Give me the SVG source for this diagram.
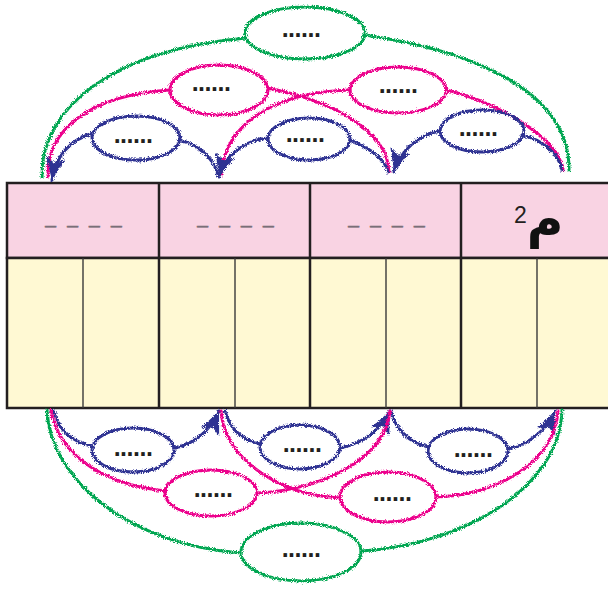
<svg xmlns="http://www.w3.org/2000/svg" width="608" height="589" viewBox="0 0 608 589">
<style>
.hdr{fill:#f9d3e3;stroke:#231f20;stroke-width:2.5}
.body{fill:#fff9d3;stroke:#231f20;stroke-width:2.5}
.major{stroke:#231f20;stroke-width:2.5;fill:none}
.minor{stroke:#3a3a3a;stroke-width:1.4;fill:none}
.dash{font-family:"Liberation Sans",Arial,sans-serif;font-size:20px;fill:#7a6f78;stroke:#7a6f78;stroke-width:0.5;letter-spacing:2.6px}
.dots{font-family:"Liberation Sans",Arial,sans-serif;font-size:25px;font-weight:bold;fill:#231f20;letter-spacing:-0.5px;text-anchor:middle}
.g{stroke:#00a651}
.p{stroke:#ec008c}
.b{stroke:#2e3192}
ellipse.n{fill:none;stroke-width:3;filter:url(#rough)}
#connectors path{fill:none;stroke-width:3;stroke-linecap:round}
</style>
<defs>
<filter id="rough" filterUnits="userSpaceOnUse" x="0" y="0" width="608" height="589">
<feTurbulence type="fractalNoise" baseFrequency="1.1" numOctaves="2" seed="4" result="n"/>
<feDisplacementMap in="SourceGraphic" in2="n" scale="5" xChannelSelector="R" yChannelSelector="G"/>
</filter>
<marker id="arr" markerUnits="userSpaceOnUse" markerWidth="26" markerHeight="22" refX="23" refY="11" orient="auto" viewBox="0 0 26 22">
<path d="M0,1 L23,11 L0,21 L6,11 Z" fill="#2e3192" stroke="none"/>
</marker>
</defs>

<g id="table">
<rect class="hdr" x="7" y="183" width="620" height="75"/>
<rect class="body" x="7" y="258" width="620" height="150"/>
<line class="major" x1="159" y1="183" x2="159" y2="408"/>
<line class="major" x1="310" y1="183" x2="310" y2="408"/>
<line class="major" x1="461" y1="183" x2="461" y2="408"/>
<line class="minor" x1="83" y1="258" x2="83" y2="408"/>
<line class="minor" x1="235" y1="258" x2="235" y2="408"/>
<line class="minor" x1="386" y1="258" x2="386" y2="408"/>
<line class="minor" x1="537" y1="258" x2="537" y2="408"/>
<text class="dash" x="45" y="232">– – – –</text>
<text class="dash" x="197" y="232">– – – –</text>
<text class="dash" x="348" y="232">– – – –</text>
<text x="514" y="223" font-family="Liberation Sans,Arial,sans-serif" font-size="23" fill="#231f20">2</text>
<text x="545" y="237" font-family="DejaVu Sans,sans-serif" font-size="50" font-weight="bold" fill="#111" text-anchor="middle">م</text>
</g>

<g id="connectors" filter="url(#rough)">
<path class="g" d="M42,177 C40,110 110,50 246,38"/>
<path class="g" d="M364,35 C470,50 570,90 569,170"/>
<path class="p" d="M48,177 C46,130 90,95 170,90"/>
<path class="p" d="M267,88 C330,100 388,130 389,172"/>
<path class="p" d="M221,175 C225,120 280,92 350,90"/>
<path class="p" d="M446,90 C490,100 558,135 563,170"/>
<path class="b" d="M93,133 C70,140 56,155 52,180" marker-end="url(#arr)"/>
<path class="b" d="M179,140 C200,145 215,160 218,176"/>
<path class="b" d="M268,138 C245,140 225,155 219,177" marker-end="url(#arr)"/>
<path class="b" d="M350,140 C370,148 386,160 388,172"/>
<path class="b" d="M440,131 C420,134 400,150 394,172" marker-end="url(#arr)"/>
<path class="b" d="M522,135 C542,140 558,152 562,170"/>
<path class="b" d="M54,411 C58,430 72,442 92,446"/>
<path class="b" d="M174,448 C192,445 210,432 219,411" marker-end="url(#arr)"/>
<path class="b" d="M225,411 C230,430 243,440 260,444"/>
<path class="b" d="M340,448 C362,444 381,430 390,411" marker-end="url(#arr)"/>
<path class="b" d="M391,411 C396,430 409,442 428,447"/>
<path class="b" d="M508,449 C528,445 547,430 555,411" marker-end="url(#arr)"/>
<path class="p" d="M51,410 C60,460 110,485 165,491"/>
<path class="p" d="M257,493 C320,490 385,460 390,411"/>
<path class="p" d="M221,411 C225,460 280,495 340,498"/>
<path class="p" d="M436,497 C500,495 555,460 558,411"/>
<path class="g" d="M47,410 C50,480 130,545 241,553"/>
<path class="g" d="M362,551 C460,545 560,490 562,410"/>
</g>

<g id="n-top-green"><ellipse class="n g" cx="305" cy="33" rx="60" ry="26"/><text class="dots" x="301" y="37">......</text></g>
<g id="n-top-pink-1"><ellipse class="n p" cx="219" cy="90" rx="49" ry="25"/><text class="dots" x="211" y="91">......</text></g>
<g id="n-top-pink-2"><ellipse class="n p" cx="398" cy="90" rx="48" ry="23"/><text class="dots" x="398" y="93">......</text></g>
<g id="n-top-blue-1"><ellipse class="n b" cx="136" cy="138" rx="44" ry="22"/><text class="dots" x="133" y="143">......</text></g>
<g id="n-top-blue-2"><ellipse class="n b" cx="309" cy="139" rx="41" ry="21"/><text class="dots" x="305" y="142">......</text></g>
<g id="n-top-blue-3"><ellipse class="n b" cx="482" cy="131" rx="42" ry="21"/><text class="dots" x="478" y="136">......</text></g>
<g id="n-bot-blue-1"><ellipse class="n b" cx="133" cy="450" rx="41" ry="22"/><text class="dots" x="133" y="456">......</text></g>
<g id="n-bot-blue-2"><ellipse class="n b" cx="300" cy="447" rx="40" ry="22"/><text class="dots" x="302" y="452">......</text></g>
<g id="n-bot-blue-3"><ellipse class="n b" cx="468" cy="451" rx="40" ry="22"/><text class="dots" x="473" y="457">......</text></g>
<g id="n-bot-pink-1"><ellipse class="n p" cx="211" cy="493" rx="46" ry="23"/><text class="dots" x="213" y="497">......</text></g>
<g id="n-bot-pink-2"><ellipse class="n p" cx="388" cy="497" rx="48" ry="25"/><text class="dots" x="392" y="501">......</text></g>
<g id="n-bot-green"><ellipse class="n g" cx="301" cy="552" rx="60" ry="29"/><text class="dots" x="301" y="557">......</text></g>
</svg>
